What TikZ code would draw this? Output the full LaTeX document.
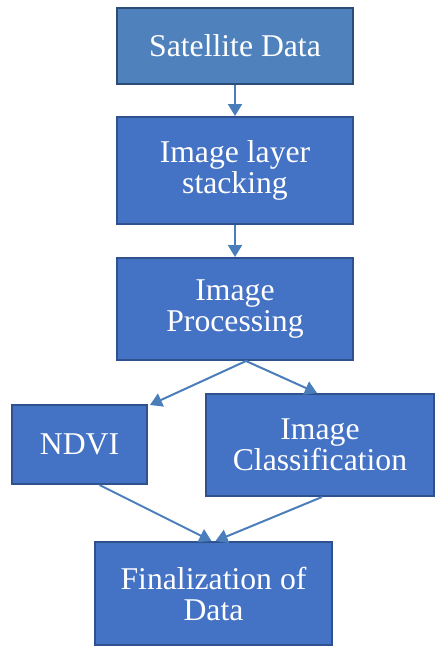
\documentclass[tikz,border=0pt]{standalone}
\usepackage{fontspec}
\setmainfont{Liberation Serif}
\usetikzlibrary{arrows.meta,calc}
\definecolor{boxfill}{HTML}{4472C4}
\definecolor{boxline}{HTML}{2F528F}
\definecolor{topfill}{HTML}{4F81BD}
\definecolor{topline}{HTML}{2C4D75}
\definecolor{arrowc}{HTML}{4A7EBB}
\tikzset{
  box/.style={draw=boxline, fill=boxfill, line width=2pt, inner sep=0pt,
    text=white, align=center, font=\fontsize{31.7}{31}\selectfont},
  topbox/.style={box, draw=topline, fill=topfill},
  conn/.style={draw=arrowc, line width=2pt, -{Triangle[width=14pt,length=12pt]}}
}
\begin{document}
\begin{tikzpicture}[x=1pt,y=-1pt]
\useasboundingbox (0,0) rectangle (435,646);
\node[topbox, minimum width=236pt, minimum height=76pt] (sat) at (235,46) {Satellite Data};
\node[box, minimum width=236pt, minimum height=107pt] (stack) at (235,170.5) {Image layer\\stacking};
\node[box, minimum width=236pt, minimum height=102pt] (proc) at (235,309) {Image\\Processing};
\node[box, minimum width=135pt, minimum height=79pt] (ndvi) at (79.5,444.5) {NDVI};
\node[box, minimum width=228pt, minimum height=102pt] (cls) at (320,445) {Image\\Classification};
\node[box, minimum width=237pt, minimum height=103pt] (fin) at (213.5,593.5) {Finalization of\\Data};
\draw[conn] (sat.south) -- (stack.north);
\draw[conn] (stack.south) -- (proc.north);
\draw[conn] ([xshift=11pt]proc.south) -- ([xshift=2pt,yshift=-1pt]ndvi.north east);
\draw[conn] ([xshift=11pt]proc.south) -- ([xshift=-3pt]cls.north);
\draw[conn] ([xshift=20pt]ndvi.south) -- ([xshift=-2pt]fin.north);
\draw[conn] ([xshift=2pt]cls.south) -- ([xshift=2pt]fin.north);
\end{tikzpicture}
\end{document}
